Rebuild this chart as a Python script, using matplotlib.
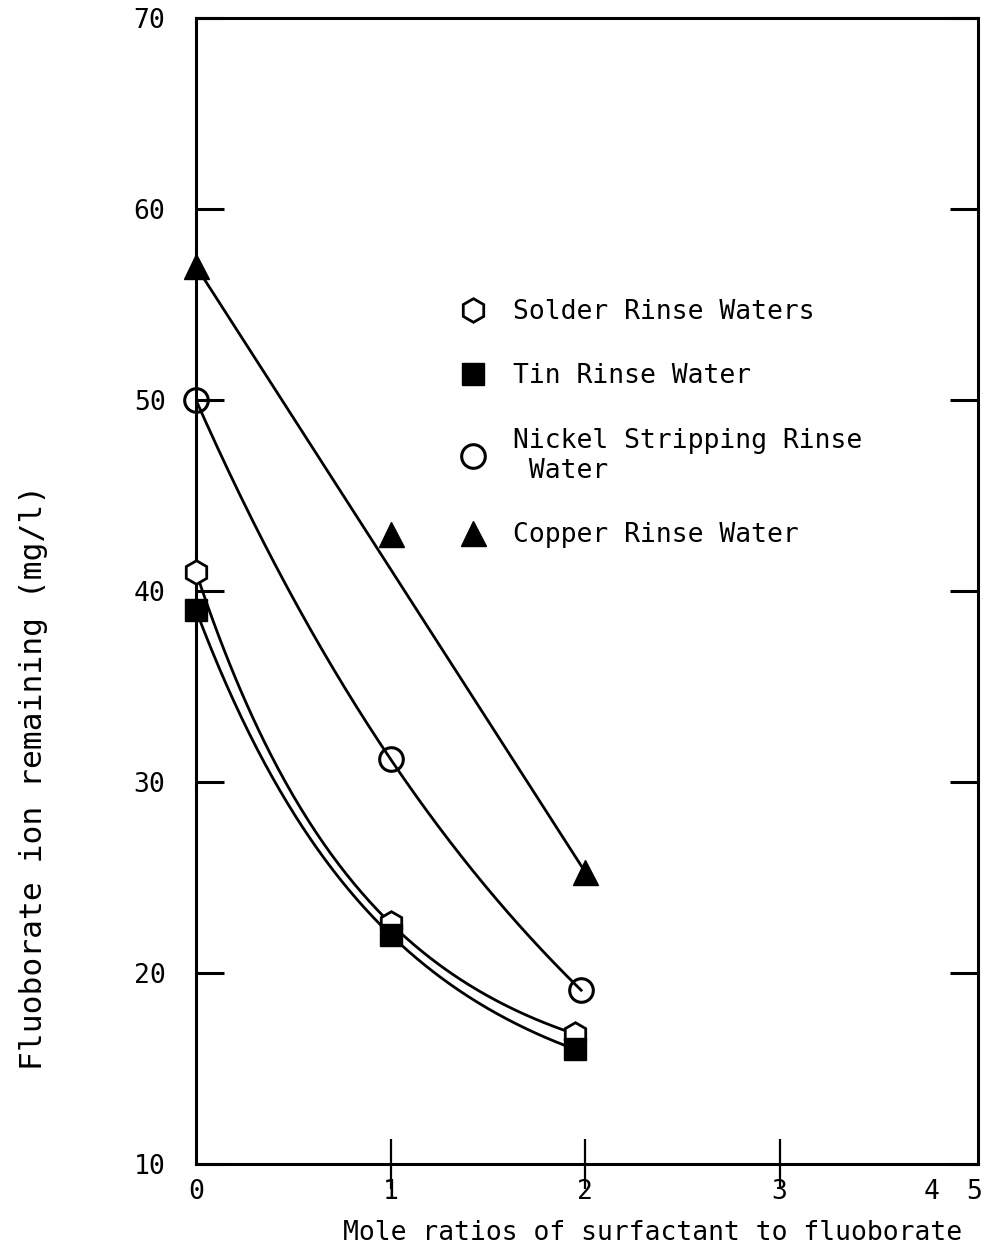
import numpy as np
import matplotlib
matplotlib.use("Agg")
import matplotlib.pyplot as plt
from matplotlib.lines import Line2D
from matplotlib.ticker import FixedLocator

plt.rcParams['font.family'] = ['DejaVu Sans Mono']

# ---- data ----
solder_x = np.array([0.0, 1.0, 1.95])
solder_y = np.array([41.0, 22.6, 16.8])

tin_x = np.array([0.0, 1.0, 1.95])
tin_y = np.array([39.0, 22.0, 16.0])

nickel_x = np.array([0.0, 1.0, 1.98])
nickel_y = np.array([50.0, 31.2, 19.1])

copper_x = np.array([0.0, 1.0, 2.0])
copper_y = np.array([57.0, 43.0, 25.3])

y_ticks = [10, 20, 30, 40, 50, 60, 70]
x_label_pos = [0, 1, 2, 3, 3.78, 4.0]
x_label_txt = ['0', '1', '2', '3', '4', '5']
x_cross_ticks = [1, 2, 3]

labels = ['Solder Rinse Waters', 'Tin Rinse Water',
          'Nickel Stripping Rinse\n Water', 'Copper Rinse Water']

FS = 19
W = 997
H = 1257
fig = plt.figure(figsize=(W / 100, H / 100), dpi=100)
left, right, top, bottom = 196, 978, 18, 1164
ax = fig.add_axes([left / W, 1 - bottom / H, (right - left) / W, (bottom - top) / H])
ax.set_xlim(0, 4.02)
ax.set_ylim(10, 70)

lw = 2.0


def smooth(x, y):
    """Exponential-decay curve a + b*exp(-k x) passing through the three points."""
    ks = np.linspace(0.01, 5, 5000)
    best = None
    for k in ks:
        e = np.exp(-k * x)
        A = np.vstack([np.ones_like(x), e]).T
        coef, res, *_ = np.linalg.lstsq(A, y, rcond=None)
        err = np.sum((A @ coef - y) ** 2)
        if best is None or err < best[0]:
            best = (err, k, coef)
    _, k, (a, b) = best
    xs = np.linspace(x[0], x[-1], 200)
    return xs, a + b * np.exp(-k * xs)


for x, y in [(solder_x, solder_y), (tin_x, tin_y), (nickel_x, nickel_y)]:
    xs, ys = smooth(x, y)
    ax.plot(xs, ys, color='black', lw=lw, zorder=2)
ax.plot(copper_x[[0, -1]], copper_y[[0, -1]], color='black', lw=lw, zorder=2)

mk_solder = dict(marker='h', ms=17, mfc='white', mec='black', mew=2.0, ls='none')
mk_tin = dict(marker='s', ms=16, mfc='black', mec='black', mew=1.0, ls='none')
mk_nickel = dict(marker='o', ms=17, mfc='none', mec='black', mew=2.2, ls='none')
mk_copper = dict(marker='^', ms=18, mfc='black', mec='black', mew=1.0, ls='none')

ax.plot(solder_x, solder_y, clip_on=False, zorder=3, **mk_solder)
ax.plot(tin_x, tin_y, clip_on=False, zorder=4, **mk_tin)
ax.plot(nickel_x, nickel_y, clip_on=False, zorder=3, **mk_nickel)
ax.plot(copper_x, copper_y, clip_on=False, zorder=3, **mk_copper)

# spines
for s in ax.spines.values():
    s.set_linewidth(2.2)

# y ticks
ax.set_yticks(y_ticks)
ax.set_yticklabels([str(v) for v in y_ticks])
ax.tick_params(axis='y', which='major', direction='in', length=20, width=2.2,
               left=True, right=True, labelsize=FS, pad=22)

# x ticks: labels on major (no mark); crossing marks at 1,2,3 as minor ticks
ax.xaxis.remove_overlapping_locs = False
ax.xaxis.set_major_locator(FixedLocator(x_label_pos))
ax.set_xticklabels(x_label_txt)
ax.tick_params(axis='x', which='major', length=0, labelsize=FS, pad=11)
ax.xaxis.set_minor_locator(FixedLocator(x_cross_ticks))
ax.tick_params(axis='x', which='minor', direction='inout', length=36, width=1.6,
               color='black')
for t in ax.xaxis.get_minor_ticks():
    t.tick1line.set_clip_on(False)

ax.set_xlabel('Mole ratios of surfactant to fluoborate', fontsize=FS)
ax.xaxis.set_label_coords((653 - left) / (right - left), -(1220 - bottom) / (bottom - top))
ax.set_ylabel('Fluoborate ion remaining (mg/l)', fontsize=22.5)
ax.yaxis.set_label_coords((48 - left) / (right - left), (bottom - 777) / (bottom - top))

handles = [Line2D([], [], **mk_solder), Line2D([], [], **mk_tin),
           Line2D([], [], **mk_nickel), Line2D([], [], **mk_copper)]
leg = ax.legend(handles, labels, loc='upper left',
                bbox_to_anchor=(460 / W, 1 - 299 / H), bbox_transform=fig.transFigure,
                frameon=False, fontsize=FS, handlelength=1.0, handletextpad=1.0,
                borderpad=0, borderaxespad=0, labelspacing=1.45, numpoints=1)

fig.savefig('out.png', dpi=100)
